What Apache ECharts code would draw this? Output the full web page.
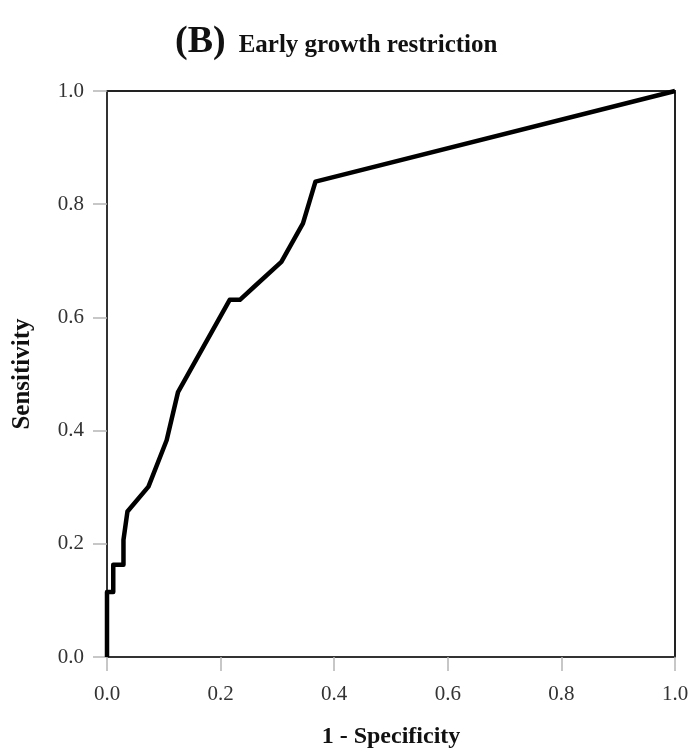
<!DOCTYPE html>
<html>
<head>
<meta charset="utf-8">
<script src="https://cdn.jsdelivr.net/npm/echarts@6/dist/echarts.min.js"></script>
<style>html,body{margin:0;padding:0;background:#fff;}#c{width:691px;height:752px;}</style>
</head>
<body>
<div id="c"></div>
<script>
var fpr = [0, 0, 0.011, 0.011, 0.029, 0.029, 0.036, 0.073, 0.105, 0.125, 0.216, 0.234, 0.26, 0.307, 0.345, 0.367, 1.0];
var tpr = [0, 0.115, 0.115, 0.163, 0.163, 0.207, 0.257, 0.301, 0.383, 0.468, 0.631, 0.631, 0.655, 0.698, 0.766, 0.840, 1.0];
var xTicks = [0, 0.2, 0.4, 0.6, 0.8, 1.0];
var yTicks = [0, 0.2, 0.4, 0.6, 0.8, 1.0];
var titleTag = '(B)';
var titleText = 'Early growth restriction';
var xName = '1 - Specificity';
var yName = 'Sensitivity';

var serif = '"Liberation Serif", "DejaVu Serif", serif';
var chart = echarts.init(document.getElementById('c'), null, {renderer: 'canvas'});
chart.setOption({
  backgroundColor: '#fff',
  animation: false,
  title: {
    text: '{b|' + titleTag + '}{t|' + titleText + '}',
    left: 170, top: 18,
    textStyle: {
      rich: {
        b: {fontFamily: serif, fontWeight: 'bold', fontSize: 38, color: '#111', padding: [0, 13, 0, 0]},
        t: {fontFamily: serif, fontWeight: 'bold', fontSize: 25, color: '#111', padding: [7, 0, 0, 0]}
      }
    }
  },
  grid: {left: 107, right: 16, top: 91, bottom: 95, containLabel: false, outerBoundsMode: 'none',
         show: true, borderColor: '#222', borderWidth: 2, backgroundColor: 'transparent'},
  xAxis: {
    type: 'value', min: 0, max: 1, interval: 0.2,
    name: xName, nameLocation: 'middle', nameGap: 68,
    nameTextStyle: {fontFamily: serif, fontWeight: 'bold', fontSize: 24, color: '#111'},
    axisLine: {show: true, lineStyle: {color: '#333', width: 2}},
    axisTick: {show: true, length: 14, lineStyle: {color: '#b5b5b5', width: 1.5}},
    axisLabel: {fontFamily: serif, fontSize: 21, color: '#333', margin: 27, formatter: function(v){return v.toFixed(1);}},
    splitLine: {show: false}
  },
  yAxis: {
    type: 'value', min: 0, max: 1, interval: 0.2,
    name: yName, nameLocation: 'middle', nameGap: 72,
    nameTextStyle: {fontFamily: serif, fontWeight: 'bold', fontSize: 25, color: '#111'},
    axisLine: {show: true, lineStyle: {color: '#333', width: 2}},
    axisTick: {show: true, length: 14, lineStyle: {color: '#b5b5b5', width: 1.5}},
    axisLabel: {fontFamily: serif, fontSize: 21, color: '#333', margin: 23, formatter: function(v){return v.toFixed(1);}},
    splitLine: {show: false}
  },
  series: [{
    type: 'line',
    data: fpr.map(function(x, i){ return [x, tpr[i]]; }),
    showSymbol: false,
    lineStyle: {color: '#000', width: 4.5, join: 'round'},
    clip: false
  }]
});
</script>
</body>
</html>
